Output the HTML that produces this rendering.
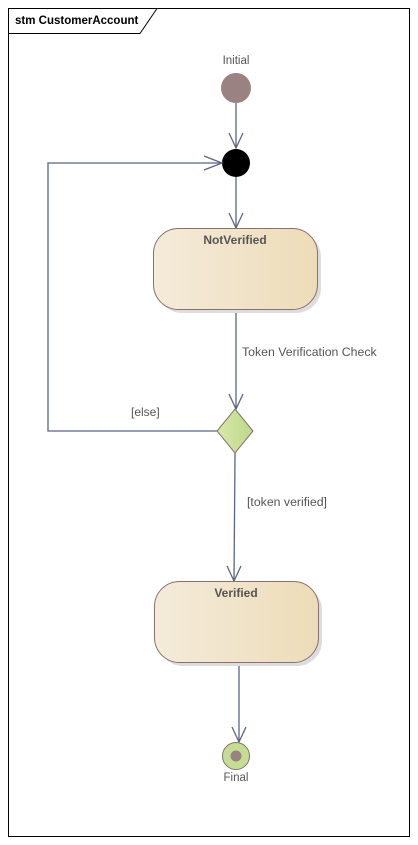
<!DOCTYPE html>
<html><head><style>
body{margin:0;background:#fff;}
svg{display:block;font-family:"Liberation Sans",sans-serif;}
</style></head><body>
<svg width="418" height="845" viewBox="0 0 418 845">
<defs>
<linearGradient id="g" x1="0" x2="1" y1="0" y2="0">
<stop offset="0" stop-color="#f4ebda"/><stop offset="1" stop-color="#eddcb8"/>
</linearGradient>
<linearGradient id="gd" x1="0" x2="1"><stop offset="0" stop-color="#d8e8a8"/><stop offset="1" stop-color="#bcd98a"/></linearGradient>
</defs>
<rect x="8.5" y="8.5" width="401" height="828" fill="#fff" stroke="#000"/>
<path d="M8.5 33.5 H140 L157 8.5" fill="none" stroke="#000"/>
<text x="15" y="24" font-size="11.5" font-weight="bold" fill="#000">stm CustomerAccount</text>

<text x="236" y="64" font-size="11.5" fill="#555" text-anchor="middle">Initial</text>
<circle cx="236" cy="88" r="15" fill="#9a8282"/>
<g stroke="#5a6582" stroke-width="1.3" fill="none">
<path d="M236 103 V148"/><path d="M229 133 L236 148 L243 133"/>
<circle cx="236" cy="163" r="14" fill="#000" stroke="none"/>
<path d="M236 177 V228"/><path d="M229 213 L236 228 L243 213"/>
<path d="M236 309 V409"/><path d="M229 394 L236 409 L243 394"/>
<path d="M217 431 H48 V163 H222"/><path d="M204 156 L222 163 L204 170"/>
<path d="M235 453 L234 581"/><path d="M227 566 L234 581 L241 566"/>
<path d="M239 662 V742"/><path d="M232 727 L239 742 L246 727"/>
</g>
<rect x="157" y="232" width="164" height="81" rx="25" fill="#ddd"/>
<rect x="153.5" y="228.5" width="164" height="81" rx="25" fill="url(#g)" stroke="#8a7070"/>
<text x="235" y="244" font-size="12" font-weight="bold" fill="#555" text-anchor="middle">NotVerified</text>
<text x="242" y="356" font-size="12.3" fill="#555">Token Verification Check</text>
<text x="131" y="416" font-size="12" fill="#555">[else]</text>
<path d="M235 409 L253 431 L235 453 L217 431 Z" fill="url(#gd)" stroke="#8a7070"/>
<text x="247" y="506" font-size="12.3" fill="#555">[token verified]</text>
<rect x="158" y="585" width="164" height="81" rx="25" fill="#ddd"/>
<rect x="154.5" y="581.5" width="164" height="81" rx="25" fill="url(#g)" stroke="#8a7070"/>
<text x="236" y="597" font-size="12" font-weight="bold" fill="#555" text-anchor="middle">Verified</text>
<circle cx="236" cy="756" r="13.5" fill="#c4dd92" stroke="#8a7070"/>
<circle cx="236" cy="756" r="5.5" fill="#9a8282"/>
<text x="236" y="781" font-size="11.5" fill="#555" text-anchor="middle">Final</text>
</svg>
</body></html>
